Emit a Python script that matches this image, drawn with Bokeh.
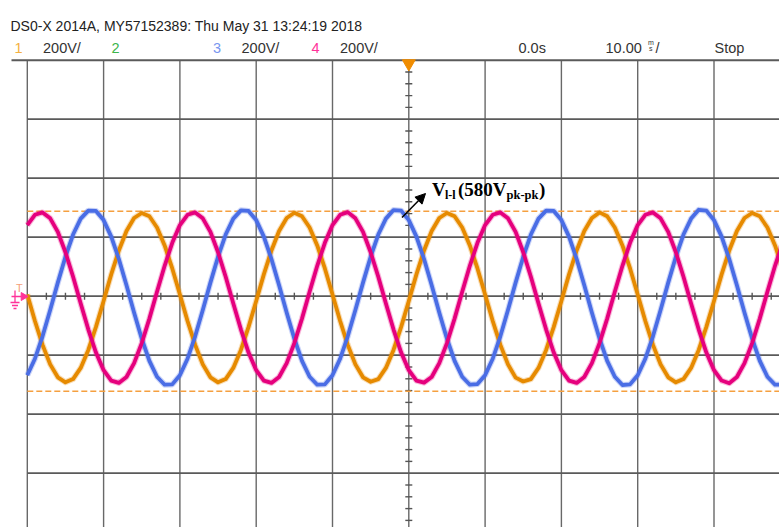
from bokeh.plotting import figure
from bokeh.models import Range1d, Arrow, NormalHead
from bokeh.core.properties import value
from bokeh.embed import file_html
from bokeh.resources import INLINE

# ---------------- data ----------------
# time axis: 10 ms/div, samples every 1 ms
t_ms = list(range(-50, 50))

# Channel 1 (orange), 200 V/div
ch1_v = [6, -84, -165, -231, -275, -292, -281, -243, -182, -104,
         -16, 74, 155, 221, 265, 282, 271, 233, 172, 94,
         6, -84, -165, -231, -275, -292, -281, -243, -182, -104,
         -16, 74, 155, 221, 265, 283, 271, 233, 172, 94,
         6, -84, -165, -231, -275, -290, -281, -243, -182, -104,
         -16, 74, 155, 221, 265, 282, 271, 233, 172, 94,
         6, -84, -165, -231, -276, -289, -281, -243, -182, -104,
         -16, 74, 155, 221, 265, 284, 271, 233, 172, 94,
         6, -84, -165, -231, -275, -292, -281, -243, -182, -104,
         -16, 74, 155, 221, 265, 282, 271, 233, 172, 94]

# Channel 3 (blue), 200 V/div
ch3_v = [-268, -212, -136, -47, 46, 134, 209, 263, 290, 289,
         258, 202, 126, 37, -56, -144, -219, -273, -300, -299,
         -268, -212, -136, -47, 46, 134, 209, 263, 291, 289,
         258, 202, 126, 37, -56, -144, -219, -273, -300, -299,
         -268, -212, -136, -47, 46, 134, 209, 263, 292, 290,
         258, 202, 126, 37, -56, -144, -219, -273, -300, -298,
         -268, -212, -136, -47, 46, 134, 209, 263, 290, 289,
         258, 202, 126, 37, -56, -144, -219, -273, -301, -299,
         -268, -212, -136, -47, 46, 134, 209, 263, 293, 290,
         258, 202, 126, 37, -56, -144, -219, -273, -300, -299]

# Channel 4 (pink), 200 V/div
ch4_v = [241, 276, 284, 264, 218, 149, 66, -25, -113, -191,
         -251, -286, -294, -274, -227, -159, -76, 15, 103, 181,
         241, 276, 284, 264, 218, 149, 66, -25, -113, -191,
         -251, -286, -294, -274, -227, -159, -76, 15, 103, 181,
         241, 276, 285, 264, 218, 149, 66, -25, -113, -191,
         -251, -286, -293, -274, -227, -159, -76, 15, 103, 181,
         241, 276, 284, 264, 218, 149, 66, -25, -113, -191,
         -251, -286, -294, -274, -227, -159, -76, 15, 103, 181,
         241, 276, 284, 264, 218, 149, 66, -25, -113, -191,
         -251, -286, -295, -274, -227, -159, -76, 15, 103, 181]

# graticule (ms and V)
grid_t = [-50, -40, -30, -20, -10, 0, 10, 20, 30, 40]
grid_v = [-600, -400, -200, 0, 200, 400, 600]
screen_top_v = 800
minor_t = [g + k * 2.5 for g in range(-50, 50, 10) for k in (1, 2, 3)]
minor_v = [g + k * 40 for g in range(-800, 800, 200) for k in (1, 2, 3, 4)]

# cursors (V)
cursor_v = [288, -322]

header = "DS0-X 2014A, MY57152389: Thu May 31 13:24:19 2018"

# ---------------- geometry helpers (picture pixels -> data) ----------------
PX_PER_MS = 7.63
PX_PER_V = 59.0 / 200.0
X0, Y0 = 408.3, 295.7
W, H = 779, 527


def px_x(x):
    return (x - X0) / PX_PER_MS


def px_y(y):
    return (Y0 - y) / PX_PER_V


p = figure(width=W, height=H, output_backend="svg", toolbar_location=None,
           x_range=Range1d(px_x(0), px_x(W)), y_range=Range1d(px_y(H), px_y(0)),
           x_axis_type=None, y_axis_type=None,
           min_border=0, min_border_left=0, min_border_right=0,
           min_border_top=0, min_border_bottom=0)
p.outline_line_color = None
p.xgrid.visible = False
p.ygrid.visible = False
p.background_fill_color = "white"
p.border_fill_color = "white"

GRID = "#686868"
# vertical graticule lines
p.segment(x0=grid_t, y0=[-900] * len(grid_t), x1=grid_t, y1=[screen_top_v] * len(grid_t),
          line_color=GRID, line_width=1.4)
# horizontal graticule lines
p.segment(x0=[grid_t[0]] * len(grid_v), y0=grid_v, x1=[60] * len(grid_v), y1=grid_v,
          line_color="#5a5a5a", line_width=1.7)
# top frame line (header separator)
p.segment(x0=[px_x(11)], y0=[screen_top_v], x1=[60], y1=[screen_top_v],
          line_color="#5a5a5a", line_width=1.9)

# minor ticks on the centre lines
p.scatter(x=[0] * len(minor_v), y=minor_v, marker="dash", size=7,
          line_color="#555555", line_width=1.4)
p.scatter(x=minor_t, y=[0] * len(minor_t), marker="dash", angle=1.5708, size=7,
          line_color="#555555", line_width=1.4)

# cursors
for cv in cursor_v:
    p.line(x=[grid_t[0], 60], y=[cv, cv], line_color="#f5a040", line_width=1.6,
           line_dash="6 3")

# traces (noise band underneath, then the trace)
traces = [(ch1_v, "#e68a00"), (ch3_v, "#4a6de5"), (ch4_v, "#e5007d")]
for vals, col in traces:
    p.line(x=t_ms, y=vals, line_color=col, line_width=6, line_alpha=0.28, line_join="round")
for vals, col in traces:
    p.line(x=t_ms, y=vals, line_color=col, line_width=3.8, line_join="round")

# trigger position marker (top centre)
p.scatter(x=[0], y=[px_y(63)], marker="inverted_triangle", size=13,
          fill_color="#f08c00", line_color="#f08c00")

# ground / trigger-level marker on the left
PINK = "#ff3399"
p.text(x=[px_x(15.5)], y=[px_y(287)], text=["T"], text_font=value("Liberation Sans"),
       text_font_size="11px", text_color="#f5a07a", text_baseline="alphabetic")
p.segment(x0=[px_x(11)], y0=[px_y(296)], x1=[px_x(21)], y1=[px_y(296)],
          line_color=PINK, line_width=1.5)
p.scatter(x=[px_x(23)], y=[px_y(296)], marker="triangle", angle=-1.5708, size=8,
          fill_color=PINK, line_color=PINK)
p.segment(x0=[px_x(14.5)], y0=[px_y(290)], x1=[px_x(14.5)], y1=[px_y(302)],
          line_color=PINK, line_width=1.3)
p.segment(x0=[px_x(10), px_x(11.5), px_x(13)], y0=[px_y(302), px_y(305), px_y(308)],
          x1=[px_x(19), px_x(17.5), px_x(16)], y1=[px_y(302), px_y(305), px_y(308)],
          line_color=PINK, line_width=1.3)

# ---------------- header texts ----------------
HF = value("Liberation Sans")
p.text(x=[px_x(10)], y=[px_y(25)], text=[header], text_font=HF,
       text_font_size="14px", text_color="#222222", text_baseline="alphabetic")

row2_y = px_y(47.5)
labels = [(14, "1", "#f5b041"), (42.5, "200V/", "#333333"), (111, "2", "#3cb44b"),
          (212.5, "3", "#7896f0"), (241, "200V/", "#333333"), (311, "4", "#ff3399"),
          (339.5, "200V/", "#333333"), (518, "0.0s", "#333333"),
          (605, "10.00", "#333333"), (655, "/", "#333333"), (714, "Stop", "#333333")]
for xp, txt, col in labels:
    p.text(x=[px_x(xp)], y=[row2_y], text=[txt], text_font=HF,
           text_font_size="14.5px", text_color=col, text_baseline="alphabetic")
# stacked "m over s" unit
p.text(x=[px_x(647.5)], y=[px_y(42)], text=["m"], text_font=HF, text_font_size="7px",
       text_color="#333333", text_baseline="alphabetic")
p.text(x=[px_x(648.5)], y=[px_y(47.5)], text=["s"], text_font=HF, text_font_size="7px",
       text_color="#333333", text_baseline="alphabetic")

# ---------------- annotation ----------------
AF = value("Liberation Serif")
ax, ay = px_x(431.5), px_y(189)
parts = [("V", 0, 0, "19px"), ("l-l", 13, 5, "12px"), ("(580V", 26, 0, "19px"),
         ("pk-pk", 74.5, 5, "12.5px"), (")", 107, 0, "19px")]
for txt, dx, dy, fs in parts:
    p.text(x=[ax], y=[ay], text=[txt], x_offset=dx, y_offset=dy, text_font=AF,
           text_font_size=fs, text_font_style="bold", text_color="black",
           text_baseline="alphabetic")

p.add_layout(Arrow(end=NormalHead(size=10, fill_color="black", line_color="black"),
                   x_start=px_x(401.5), y_start=px_y(217), x_end=px_x(425), y_end=px_y(193),
                   line_color="black", line_width=1.5))

open("out.html", "w").write(file_html(p, INLINE))
